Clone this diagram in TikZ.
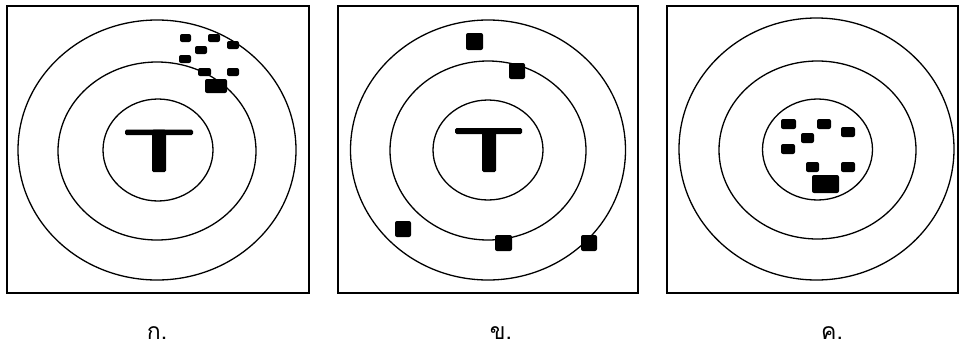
\documentclass[tikz,border=0pt]{standalone}
\usepackage{fontspec}
\newfontfamily\thaifont[Script=Thai]{Loma}
\begin{document}
\begin{tikzpicture}[x=1pt,y=-1pt,
  frame/.style={draw=black,line width=1.4pt},
  ring/.style={draw=black,line width=1.3pt},
  hit/.style={fill=black,rounded corners=2pt},
  tee/.style={fill=black,rounded corners=1.5pt},
  lbl/.style={font=\thaifont\fontsize{23}{26}\selectfont,inner sep=0pt,anchor=base}]
\useasboundingbox (0,0) rectangle (961,351);
% ---------- panel A ----------
\draw[frame] (7,6) rectangle (309,293);
\draw[ring] (157,150) ellipse [x radius=139,y radius=130];
\draw[ring] (157,151) ellipse [x radius=99,y radius=89];
\draw[ring] (158,150) ellipse [x radius=55,y radius=51];
\fill[tee] (125,129.5) rectangle (193,135);
\fill[tee] (152,129.5) rectangle (166,172);
\fill[hit] (180,34) rectangle (191,42);
\fill[hit] (208,34) rectangle (220,42);
\fill[hit] (227,41) rectangle (239,49);
\fill[hit] (195,46) rectangle (207,54);
\fill[hit] (179,55) rectangle (191,63);
\fill[hit] (198,68) rectangle (211,76);
\fill[hit] (227,68) rectangle (239,76);
\fill[hit] (205,79) rectangle (227,93);
\node[lbl] (la) at (157,339) {ก.};
% ---------- panel B ----------
\draw[frame] (338,6) rectangle (638,293);
\draw[ring] (488,150) ellipse [x radius=137.5,y radius=130];
\draw[ring] (488,150.5) ellipse [x radius=98,y radius=89.5];
\draw[ring] (488,150) ellipse [x radius=55,y radius=50];
\fill[tee] (455,128) rectangle (522,134);
\fill[tee] (482,128) rectangle (496,172);
\fill[hit] (466,33) rectangle (483,50);
\fill[hit] (509,63) rectangle (525,79);
\fill[hit] (395,221) rectangle (411,237);
\fill[hit] (495,235) rectangle (512,251);
\fill[hit] (581,235) rectangle (597,251);
\node[lbl] (lb) at (501,339) {ข.};
% ---------- panel C ----------
\draw[frame] (667,6) rectangle (958,293);
\draw[ring] (816.5,149) ellipse [x radius=137.5,y radius=131];
\draw[ring] (817.5,150) ellipse [x radius=98.5,y radius=89];
\draw[ring] (817.5,149.5) ellipse [x radius=55,y radius=50.5];
\fill[hit] (781,119) rectangle (796,129);
\fill[hit] (817,119) rectangle (831,129);
\fill[hit] (801,133) rectangle (814,143);
\fill[hit] (841,127) rectangle (855,137);
\fill[hit] (781,144) rectangle (795,154);
\fill[hit] (806,162) rectangle (819,172);
\fill[hit] (841,162) rectangle (855,172);
\fill[hit] (812,175) rectangle (839,193);
\node[lbl] (lc) at (832,339) {ค.};
\end{tikzpicture}
\end{document}
